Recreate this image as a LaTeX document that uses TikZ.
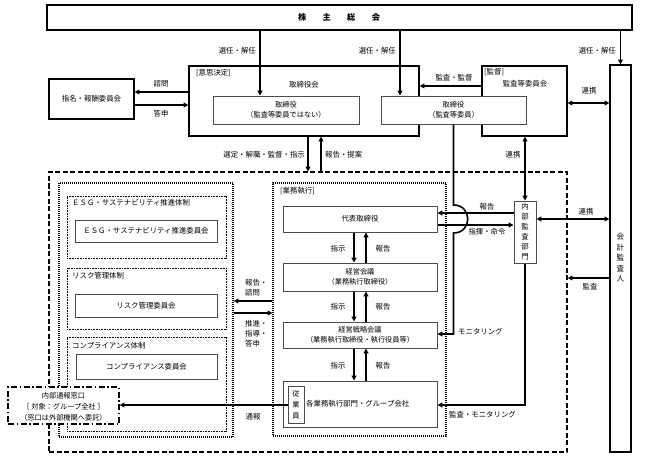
\documentclass[tikz,border=0pt]{standalone}
\usepackage{fontspec}
\setmainfont{Noto Sans CJK JP}
\usetikzlibrary{arrows.meta,fit}
\begin{document}
\begin{tikzpicture}[x=1pt,y=-1pt,
  every node/.style={inner sep=0pt, font=\fontsize{7.4}{9}\selectfont},
  box/.style={draw, line width=1.3pt, fill=white},
  ibox/.style={draw=black!70, line width=1pt, fill=white},
  grp/.style={draw, line width=1.3pt, dash pattern=on 1pt off 1pt},
  igrp/.style={draw, line width=0.9pt, dash pattern=on 0.8pt off 0.8pt},
  arr/.style={line width=1.6pt, -{Triangle[length=4.8pt,width=4.8pt]}},
  darr/.style={line width=1.6pt, {Triangle[length=4.8pt,width=4.8pt]}-{Triangle[length=4.8pt,width=4.8pt]}},
  vtext/.style={align=center, font=\fontsize{7.4}{10}\selectfont},
  mline/.style={align=left, font=\fontsize{7.4}{10}\selectfont},
  ctext/.style={align=center, font=\fontsize{7.2}{10.5}\selectfont},
]
\useasboundingbox (0,0) rectangle (648,460);

% regions
\node[draw, line width=1.3pt, dash pattern=on 5pt off 2.5pt, fit={(49,172)(567,452)}] (exec) {};
\node[grp, fit={(59,183)(233,437)}] (lg) {};
\node[grp, fit={(273,183)(446,436)}] (rg) {};
\node[igrp, fit={(67,196)(226,258)}] (gesg) {};
\node[igrp, fit={(67,268)(226,329)}] (grisk) {};
\node[igrp, fit={(67,337)(226,431)}] (gcomp) {};
\node[anchor=west] (tesg) at (72,203) {ＥＳＧ・サステナビリティ推進体制};
\node[anchor=west] (trisk) at (72,276) {リスク管理体制};
\node[anchor=west] (tcomp) at (72,346) {コンプライアンス体制};
\node[ibox, fit={(75,220)(217,242)}] (esg) {};
\node (esgl) at (146,231) {ＥＳＧ・サステナビリティ推進委員会};
\node[ibox, fit={(75,294)(217,317)}] (risk) {};
\node (riskl) at (146,305.5) {リスク管理委員会};
\node[ibox, fit={(76,354)(217,379)}] (comp) {};
\node (compl) at (146.5,366.5) {コンプライアンス委員会};
\node[anchor=west] (tgyo) at (280,191) {[業務執行]};

% top
\node[box, line width=1.7pt, fit={(47,5)(632,30)}] (sou) {};
\node (soul) at (339,17.5) {\fontsize{8.2}{9}\selectfont\bfseries 株\hspace{2em}主\hspace{2em}総\hspace{2em}会};
\node[box, fit={(189,66)(419,136)}] (kai) {};
\node[box, fit={(482,66)(567,136)}] (kan) {};
\node[ibox, fit={(213,96)(359,124)}] (dirA) {};
\node[ctext] (dirAl) at (286,110) {取締役\\（監査等委員ではない）};
\node[ibox, fit={(381,96)(526,124)}] (dirB) {};
\node[ctext] (dirBl) at (453.5,110) {取締役\\（監査等委員）};
\node[box, fit={(49,79)(134,119)}] (nom) {};
\node (noml) at (91.5,99) {指名・報酬委員会};
\node[box, fit={(610,65)(631,452)}] (acc) {};
\node[vtext, font=\fontsize{7.6}{10.5}\selectfont] (accl) at (620.5,258) {会\\計\\監\\査\\人};
\node[anchor=west] (tisi) at (196,73) {[意思決定]};
\node (tkai) at (304,85) {取締役会};
\node[anchor=west] (tkan1) at (484,72) {[監督]};
\node (tkan2) at (525,84) {監査等委員会};

% execution
\node[ibox, fit={(283,206)(437,232)}] (dai) {};
\node (dail) at (360,219) {代表取締役};
\node[ibox, fit={(283,263)(437,291)}] (kei) {};
\node[ctext] (keil) at (360,277) {経営会議\\（業務執行取締役）};
\node[ibox, fit={(283,322)(437,348)}] (sen) {};
\node[ctext] (senl) at (360,335) {経営戦略会議\\（業務執行取締役・執行役員等）};
\node[ibox, fit={(283,381)(437,427)}] (kak) {};
\node[ibox, fit={(288,386)(304,423)}] (emp) {};
\node[align=center, font=\fontsize{7.2}{11}\selectfont] (empl) at (296,404.5) {従\\業\\員};
\node[anchor=west] (kakl) at (306,404) {各業務執行部門・グループ会社};
\node[ibox, fit={(514,201)(536,263)}] (audit) {};
\node[vtext] (auditl) at (525,232) {内\\部\\監\\査\\部\\門};

% arrows top
\draw[arr] (260,0 |- sou.south) -- (260,0 |- dirA.north);
\draw[arr] (400,0 |- sou.south) -- (400,0 |- dirB.north);
\draw[arr] (sou.south -| acc.north) -- (acc.north);
\draw[arr] (kai.west |- 0,92) -- (nom.east |- 0,92);
\draw[arr] (nom.east |- 0,105) -- (kai.west |- 0,105);
\draw[arr] (kan.west |- 0,86) -- (kai.east |- 0,86);
\draw[darr] (kan.east |- 0,103) -- (acc.west |- 0,103);
\draw[arr] (308,0 |- kai.south) -- (308,0 |- exec.north);
\draw[arr] (321,0 |- exec.north) -- (321,0 |- kai.south);
\draw[darr] (audit.north |- kan.south) -- (audit.north);

% audit lines
\draw[arr] (audit.west |- 0,213) -- (dai.east |- 0,213);
\draw[arr] (dai.east |- 0,225) -- (audit.west |- 0,225);
\draw[arr] (dirB.south) -- (dirB.south |- 0,205) .. controls (472.5,205) and (472.5,233) .. (dirB.south |- 0,233) -- (dirB.south |- 0,334) -- (sen.east |- 0,334);
\draw[darr] (audit.east |- 0,219) -- (acc.west |- 0,219);
\draw[arr] (acc.west |- 0,278) -- (exec.east |- 0,278);
\draw[arr] (audit.south) -- (audit.south |- 0,405) -- (kak.east |- 0,405);

% vertical chain
\draw[arr] (354,0 |- dai.south) -- (354,0 |- kei.north);
\draw[arr] (366,0 |- kei.north) -- (366,0 |- dai.south);
\draw[arr] (354,0 |- kei.south) -- (354,0 |- sen.north);
\draw[arr] (366,0 |- sen.north) -- (366,0 |- kei.south);
\draw[arr] (354,0 |- sen.south) -- (354,0 |- kak.north);
\draw[arr] (366,0 |- kak.north) -- (366,0 |- sen.south);

% between groups
\draw[arr] (rg.west |- 0,301) -- (lg.east |- 0,301);
\draw[arr] (lg.east |- 0,313) -- (rg.west |- 0,313);

% whistle
\node[draw, fill=white, line width=1.3pt, dash pattern=on 6pt off 2.5pt on 1.5pt off 2.5pt, fit={(8,387)(119,424)}] (wh) {};
\node[align=center, font=\fontsize{7.2}{11}\selectfont] (whl) at (63.5,406.5) {内部通報窓口\\［ 対象：グループ全社 ］\\（窓口は外部機関へ委託）};
\draw[arr] (emp.west |- 0,405) -- (wh.east |- 0,405);

% labels
\node[anchor=east] (l1) at (256,51) {選任・解任};
\node[anchor=east] (l2) at (396,51) {選任・解任};
\node[anchor=east] (l3) at (616,51) {選任・解任};
\node (l4) at (161,84) {諮問};
\node (l5) at (161,114) {答申};
\node (l8) at (454,78) {監査・監督};
\node (l11) at (589,91) {連携};
\node[anchor=east] (l12) at (305,155) {選定・解職・監督・指示};
\node[anchor=west] (l13) at (325,155) {報告・提案};
\node (l14) at (513,155) {連携};
\node[mline, anchor=west] (l15) at (245,288) {報告・\\諮問};
\node[mline, anchor=west] (l16) at (245,334) {推進・\\指導・\\答申};
\node (l17) at (253,417) {通報};
\node (l19) at (338,249) {指示};
\node (l20) at (383,249) {報告};
\node (l21) at (338,307) {指示};
\node (l22) at (383,307) {報告};
\node (l23) at (338,366) {指示};
\node (l24) at (383,366) {報告};
\node (l25) at (487,207) {報告};
\node (l26) at (487,232) {指揮・命令};
\node (l27) at (586,212) {連携};
\node (l28) at (590,287) {監査};
\node[anchor=west] (l29) at (458,332) {モニタリング};
\node[anchor=west] (l30) at (449,415) {監査・モニタリング};
\end{tikzpicture}
\end{document}
